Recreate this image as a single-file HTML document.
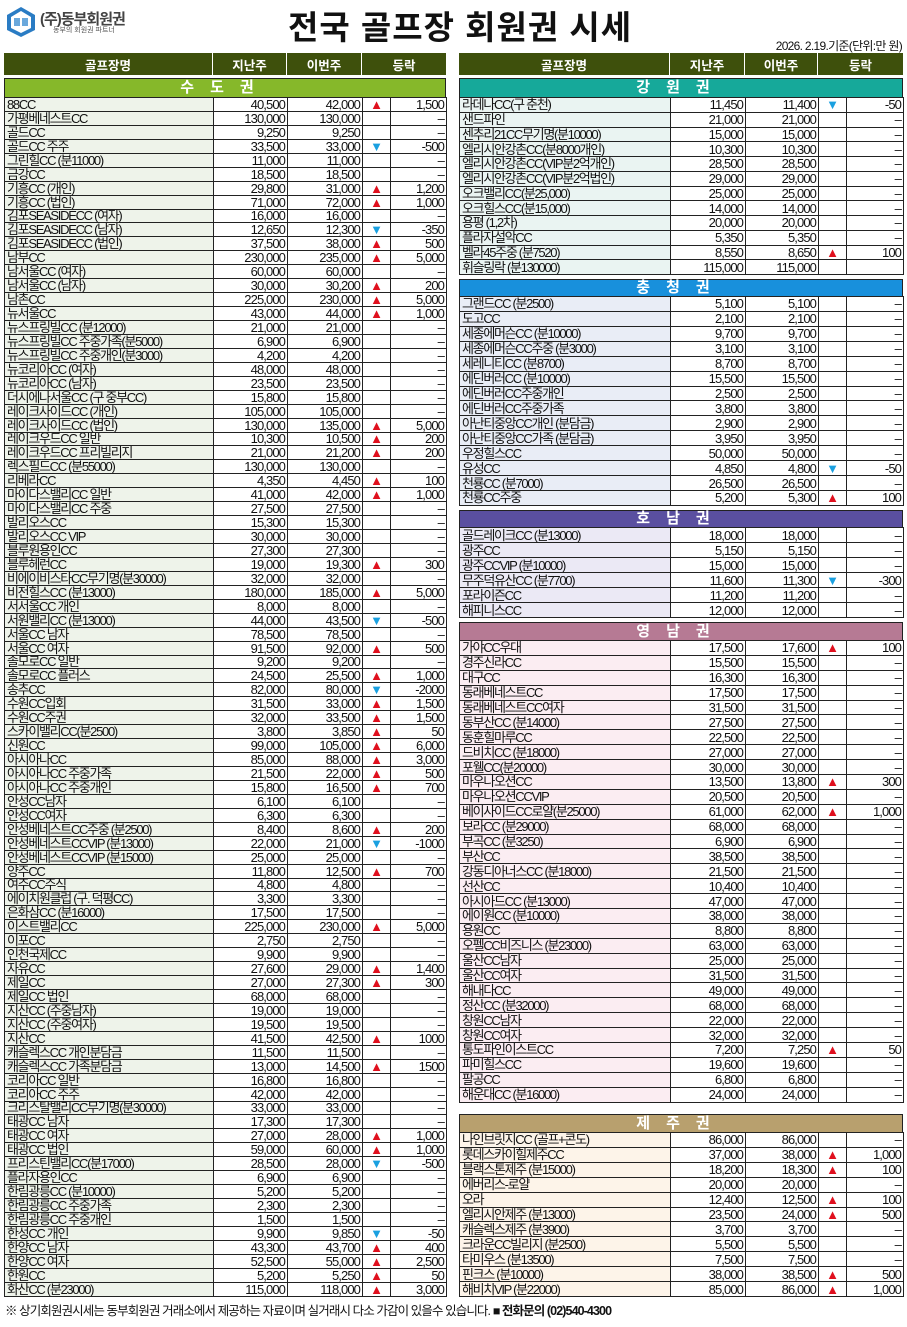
<!DOCTYPE html>
<html><head><meta charset="utf-8">
<style>
*{margin:0;padding:0;box-sizing:border-box}
body{width:907px;height:1327px;background:#fff;position:relative;font-family:"Liberation Sans","Noto Sans CJK KR",sans-serif;color:#111;overflow:hidden}
.abs{position:absolute}
.hdr{position:absolute;top:53px;height:22px;display:flex;background:#3e500c;color:#fff;font-size:12.5px;font-weight:bold}
.hdr div{display:flex;align-items:center;justify-content:center;border-right:1px solid #fff}
.hdr div:last-child{border-right:none}
.sec{position:absolute;border:1px solid #222;border-bottom:none;color:#fff;font-weight:bold;font-size:15px;text-align:center;letter-spacing:16px;line-height:17px}
table{position:absolute;border-collapse:collapse;table-layout:fixed;font-size:13px;letter-spacing:-0.9px;border:1.5px solid #111}
td{border:1px solid #222;padding:0 2px;line-height:11px;white-space:nowrap;overflow:hidden;text-align:right;background:#fff}
td:first-child{text-align:left;letter-spacing:-1.3px}
td:nth-child(4){text-align:center;font-size:13px;letter-spacing:0}
.u{color:#e0101e}.d{color:#1aa0e0}
.L td:first-child{background:#eef3ea}
.G td:first-child{background:#eaf4f2}
.C td:first-child{background:#e9edf6}
.H td:first-child{background:#ebe9f5}
.Y td:first-child{background:#fbedf2}
.J td:first-child{background:#fdf4e9}
</style></head><body>
<svg class="abs" style="left:5px;top:6px" width="32" height="32" viewBox="0 0 32 32"><path d="M16 1 L30 9 L30 24 L16 31 L2 24 L2 9 Z" fill="#2a7cc4"/><path d="M16 5 L26 11 L26 22 L16 27 L6 22 L6 11 Z" fill="#fff"/><path d="M9 12h6v8H9zM17 12h6v8h-6z" fill="#6aa8dc"/></svg>
<div class="abs" style="left:40px;top:8px;font-size:15px;font-weight:bold;color:#444;letter-spacing:-1px">(주)동부회원권</div>
<div class="abs" style="left:53px;top:25px;font-size:7px;color:#555">동부의 회원권 파트너</div>
<div class="abs" style="left:288px;top:1px;font-size:33px;font-weight:bold;letter-spacing:1px;color:#111">전국 골프장 회원권 시세</div>
<div class="abs" style="right:5px;top:37px;font-size:12px;letter-spacing:-0.7px">2026. 2.19.기준(단위:만 원)</div>

<div class="hdr" style="left:4px;width:442px"><div style="width:209px">골프장명</div><div style="width:74px">지난주</div><div style="width:75px">이번주</div><div style="width:84px">등락</div></div>
<div class="hdr" style="left:459px;width:444px"><div style="width:211px">골프장명</div><div style="width:75px">지난주</div><div style="width:73px">이번주</div><div style="width:85px">등락</div></div>

<div class="sec" style="left:4px;top:78px;width:442px;height:19px;background:#86b82a">수도권</div>
<table class="L" style="left:4px;top:97px;width:442px;height:1200px">
<colgroup><col style="width:209px"><col style="width:74px"><col style="width:75px"><col style="width:28px"><col style="width:56px"></colgroup>
<tr><td>88CC<td>40,500<td>42,000<td class=u>▲<td>1,500
<tr><td>가평베네스트CC<td>130,000<td>130,000<td><td>–
<tr><td>골드CC<td>9,250<td>9,250<td><td>–
<tr><td>골드CC 주주<td>33,500<td>33,000<td class=d>▼<td>-500
<tr><td>그린힐CC (분11000)<td>11,000<td>11,000<td><td>–
<tr><td>금강CC<td>18,500<td>18,500<td><td>–
<tr><td>기흥CC (개인)<td>29,800<td>31,000<td class=u>▲<td>1,200
<tr><td>기흥CC (법인)<td>71,000<td>72,000<td class=u>▲<td>1,000
<tr><td>김포SEASIDECC (여자)<td>16,000<td>16,000<td><td>–
<tr><td>김포SEASIDECC (남자)<td>12,650<td>12,300<td class=d>▼<td>-350
<tr><td>김포SEASIDECC (법인)<td>37,500<td>38,000<td class=u>▲<td>500
<tr><td>남부CC<td>230,000<td>235,000<td class=u>▲<td>5,000
<tr><td>남서울CC (여자)<td>60,000<td>60,000<td><td>–
<tr><td>남서울CC (남자)<td>30,000<td>30,200<td class=u>▲<td>200
<tr><td>남촌CC<td>225,000<td>230,000<td class=u>▲<td>5,000
<tr><td>뉴서울CC<td>43,000<td>44,000<td class=u>▲<td>1,000
<tr><td>뉴스프링빌CC (분12000)<td>21,000<td>21,000<td><td>–
<tr><td>뉴스프링빌CC 주중가족(분5000)<td>6,900<td>6,900<td><td>–
<tr><td>뉴스프링빌CC 주중개인(분3000)<td>4,200<td>4,200<td><td>–
<tr><td>뉴코리아CC (여자)<td>48,000<td>48,000<td><td>–
<tr><td>뉴코리아CC (남자)<td>23,500<td>23,500<td><td>–
<tr><td>더시에나서울CC (구 중부CC)<td>15,800<td>15,800<td><td>–
<tr><td>레이크사이드CC (개인)<td>105,000<td>105,000<td><td>–
<tr><td>레이크사이드CC (법인)<td>130,000<td>135,000<td class=u>▲<td>5,000
<tr><td>레이크우드CC 일반<td>10,300<td>10,500<td class=u>▲<td>200
<tr><td>레이크우드CC 프리빌리지<td>21,000<td>21,200<td class=u>▲<td>200
<tr><td>렉스필드CC (분55000)<td>130,000<td>130,000<td><td>–
<tr><td>리베라CC<td>4,350<td>4,450<td class=u>▲<td>100
<tr><td>마이다스밸리CC 일반<td>41,000<td>42,000<td class=u>▲<td>1,000
<tr><td>마이다스밸리CC 주중<td>27,500<td>27,500<td><td>–
<tr><td>발리오스CC<td>15,300<td>15,300<td><td>–
<tr><td>발리오스CC VIP<td>30,000<td>30,000<td><td>–
<tr><td>블루원용인CC<td>27,300<td>27,300<td><td>–
<tr><td>블루헤런CC<td>19,000<td>19,300<td class=u>▲<td>300
<tr><td>비에이비스타CC무기명(분30000)<td>32,000<td>32,000<td><td>–
<tr><td>비전힐스CC (분13000)<td>180,000<td>185,000<td class=u>▲<td>5,000
<tr><td>서서울CC 개인<td>8,000<td>8,000<td><td>–
<tr><td>서원밸리CC (분13000)<td>44,000<td>43,500<td class=d>▼<td>-500
<tr><td>서울CC 남자<td>78,500<td>78,500<td><td>–
<tr><td>서울CC 여자<td>91,500<td>92,000<td class=u>▲<td>500
<tr><td>솔모로CC 일반<td>9,200<td>9,200<td><td>–
<tr><td>솔모로CC 플러스<td>24,500<td>25,500<td class=u>▲<td>1,000
<tr><td>송추CC<td>82,000<td>80,000<td class=d>▼<td>-2000
<tr><td>수원CC입회<td>31,500<td>33,000<td class=u>▲<td>1,500
<tr><td>수원CC주권<td>32,000<td>33,500<td class=u>▲<td>1,500
<tr><td>스카이밸리CC(분2500)<td>3,800<td>3,850<td class=u>▲<td>50
<tr><td>신원CC<td>99,000<td>105,000<td class=u>▲<td>6,000
<tr><td>아시아나CC<td>85,000<td>88,000<td class=u>▲<td>3,000
<tr><td>아시아나CC 주중가족<td>21,500<td>22,000<td class=u>▲<td>500
<tr><td>아시아나CC 주중개인<td>15,800<td>16,500<td class=u>▲<td>700
<tr><td>안성CC남자<td>6,100<td>6,100<td><td>–
<tr><td>안성CC여자<td>6,300<td>6,300<td><td>–
<tr><td>안성베네스트CC주중 (분2500)<td>8,400<td>8,600<td class=u>▲<td>200
<tr><td>안성베네스트CCVIP (분13000)<td>22,000<td>21,000<td class=d>▼<td>-1000
<tr><td>안성베네스트CCVIP (분15000)<td>25,000<td>25,000<td><td>–
<tr><td>양주CC<td>11,800<td>12,500<td class=u>▲<td>700
<tr><td>여주CC주식<td>4,800<td>4,800<td><td>–
<tr><td>에이치원클럽 (구. 덕평CC)<td>3,300<td>3,300<td><td>–
<tr><td>은화삼CC (분16000)<td>17,500<td>17,500<td><td>–
<tr><td>이스트밸리CC<td>225,000<td>230,000<td class=u>▲<td>5,000
<tr><td>이포CC<td>2,750<td>2,750<td><td>–
<tr><td>인천국제CC<td>9,900<td>9,900<td><td>–
<tr><td>자유CC<td>27,600<td>29,000<td class=u>▲<td>1,400
<tr><td>제일CC<td>27,000<td>27,300<td class=u>▲<td>300
<tr><td>제일CC 법인<td>68,000<td>68,000<td><td>–
<tr><td>지산CC (주중남자)<td>19,000<td>19,000<td><td>–
<tr><td>지산CC (주중여자)<td>19,500<td>19,500<td><td>–
<tr><td>지산CC<td>41,500<td>42,500<td class=u>▲<td>1000
<tr><td>캐슬렉스CC 개인분담금<td>11,500<td>11,500<td><td>–
<tr><td>캐슬렉스CC 가족분담금<td>13,000<td>14,500<td class=u>▲<td>1500
<tr><td>코리아CC 일반<td>16,800<td>16,800<td><td>–
<tr><td>코리아CC 주주<td>42,000<td>42,000<td><td>–
<tr><td>크리스탈밸리CC무기명(분30000)<td>33,000<td>33,000<td><td>–
<tr><td>태광CC 남자<td>17,300<td>17,300<td><td>–
<tr><td>태광CC 여자<td>27,000<td>28,000<td class=u>▲<td>1,000
<tr><td>태광CC 법인<td>59,000<td>60,000<td class=u>▲<td>1,000
<tr><td>프리스틴밸리CC(분17000)<td>28,500<td>28,000<td class=d>▼<td>-500
<tr><td>플라자용인CC<td>6,900<td>6,900<td><td>–
<tr><td>한림광릉CC (분10000)<td>5,200<td>5,200<td><td>–
<tr><td>한림광릉CC 주중가족<td>2,300<td>2,300<td><td>–
<tr><td>한림광릉CC 주중개인<td>1,500<td>1,500<td><td>–
<tr><td>한성CC 개인<td>9,900<td>9,850<td class=d>▼<td>-50
<tr><td>한양CC 남자<td>43,300<td>43,700<td class=u>▲<td>400
<tr><td>한양CC 여자<td>52,500<td>55,000<td class=u>▲<td>2,500
<tr><td>한원CC<td>5,200<td>5,250<td class=u>▲<td>50
<tr><td>화산CC (분23000)<td>115,000<td>118,000<td class=u>▲<td>3,000
</table>

<div class="sec" style="left:459px;top:78px;width:444px;height:19px;background:#16a99a">강원권</div>
<table class="G" style="left:459px;top:97px;width:444px;height:178px">
<colgroup><col style="width:211px"><col style="width:75px"><col style="width:73px"><col style="width:28px"><col style="width:57px"></colgroup>
<tr><td>라데나CC(구 춘천)<td>11,450<td>11,400<td class=d>▼<td>-50
<tr><td>샌드파인<td>21,000<td>21,000<td><td>–
<tr><td>센추리21CC무기명(분10000)<td>15,000<td>15,000<td><td>–
<tr><td>엘리시안강촌CC(분8000개인)<td>10,300<td>10,300<td><td>–
<tr><td>엘리시안강촌CC(VIP분2억개인)<td>28,500<td>28,500<td><td>–
<tr><td>엘리시안강촌CC(VIP분2억법인)<td>29,000<td>29,000<td><td>–
<tr><td>오크밸리CC(분25,000)<td>25,000<td>25,000<td><td>–
<tr><td>오크힐스CC(분15,000)<td>14,000<td>14,000<td><td>–
<tr><td>용평 (1,2차)<td>20,000<td>20,000<td><td>–
<tr><td>플라자설악CC<td>5,350<td>5,350<td><td>–
<tr><td>벨라45주중 (분7520)<td>8,550<td>8,650<td class=u>▲<td>100
<tr><td>휘슬링락 (분130000)<td>115,000<td>115,000<td><td>
</table>

<div class="sec" style="left:459px;top:279px;width:444px;height:17px;line-height:16px;background:#1890dc">충청권</div>
<table class="C" style="left:459px;top:296px;width:444px;height:210px">
<colgroup><col style="width:211px"><col style="width:75px"><col style="width:73px"><col style="width:28px"><col style="width:57px"></colgroup>
<tr><td>그랜드CC (분2500)<td>5,100<td>5,100<td><td>–
<tr><td>도고CC<td>2,100<td>2,100<td><td>–
<tr><td>세종에머슨CC (분10000)<td>9,700<td>9,700<td><td>–
<tr><td>세종에머슨CC주중 (분3000)<td>3,100<td>3,100<td><td>–
<tr><td>세레니티CC (분8700)<td>8,700<td>8,700<td><td>–
<tr><td>에딘버러CC (분10000)<td>15,500<td>15,500<td><td>–
<tr><td>에딘버러CC주중개인<td>2,500<td>2,500<td><td>–
<tr><td>에딘버러CC주중가족<td>3,800<td>3,800<td><td>–
<tr><td>아난티중앙CC개인 (분담금)<td>2,900<td>2,900<td><td>–
<tr><td>아난티중앙CC가족 (분담금)<td>3,950<td>3,950<td><td>–
<tr><td>우정힐스CC<td>50,000<td>50,000<td><td>–
<tr><td>유성CC<td>4,850<td>4,800<td class=d>▼<td>-50
<tr><td>천룡CC (분7000)<td>26,500<td>26,500<td><td>–
<tr><td>천룡CC주중<td>5,200<td>5,300<td class=u>▲<td>100
</table>

<div class="sec" style="left:459px;top:510px;width:444px;height:17px;line-height:16px;background:#5a4fa0">호남권</div>
<table class="H" style="left:459px;top:527px;width:444px;height:91px">
<colgroup><col style="width:211px"><col style="width:75px"><col style="width:73px"><col style="width:28px"><col style="width:57px"></colgroup>
<tr><td>골드레이크CC (분13000)<td>18,000<td>18,000<td><td>–
<tr><td>광주CC<td>5,150<td>5,150<td><td>–
<tr><td>광주CCVIP (분10000)<td>15,000<td>15,000<td><td>–
<tr><td>무주덕유산CC (분7700)<td>11,600<td>11,300<td class=d>▼<td>-300
<tr><td>포라이즌CC<td>11,200<td>11,200<td><td>–
<tr><td>해피니스CC<td>12,000<td>12,000<td><td>–
</table>

<div class="sec" style="left:459px;top:622px;width:444px;height:18px;line-height:17px;background:#b67a94">영남권</div>
<table class="Y" style="left:459px;top:640px;width:444px;height:463px">
<colgroup><col style="width:211px"><col style="width:75px"><col style="width:73px"><col style="width:28px"><col style="width:57px"></colgroup>
<tr><td>가야CC우대<td>17,500<td>17,600<td class=u>▲<td>100
<tr><td>경주신라CC<td>15,500<td>15,500<td><td>–
<tr><td>대구CC<td>16,300<td>16,300<td><td>–
<tr><td>동래베네스트CC<td>17,500<td>17,500<td><td>–
<tr><td>동래베네스트CC여자<td>31,500<td>31,500<td><td>–
<tr><td>동부산CC (분14000)<td>27,500<td>27,500<td><td>–
<tr><td>동훈힐마루CC<td>22,500<td>22,500<td><td>–
<tr><td>드비치CC (분18000)<td>27,000<td>27,000<td><td>–
<tr><td>포웰CC(분20000)<td>30,000<td>30,000<td><td>–
<tr><td>마우나오션CC<td>13,500<td>13,800<td class=u>▲<td>300
<tr><td>마우나오션CCVIP<td>20,500<td>20,500<td><td>–
<tr><td>베이사이드CC로얄(분25000)<td>61,000<td>62,000<td class=u>▲<td>1,000
<tr><td>보라CC (분29000)<td>68,000<td>68,000<td><td>–
<tr><td>부곡CC (분3250)<td>6,900<td>6,900<td><td>–
<tr><td>부산CC<td>38,500<td>38,500<td><td>–
<tr><td>강동디아너스CC (분18000)<td>21,500<td>21,500<td><td>–
<tr><td>선산CC<td>10,400<td>10,400<td><td>–
<tr><td>아시아드CC (분13000)<td>47,000<td>47,000<td><td>–
<tr><td>에이원CC (분10000)<td>38,000<td>38,000<td><td>–
<tr><td>용원CC<td>8,800<td>8,800<td><td>–
<tr><td>오펠CC비즈니스 (분23000)<td>63,000<td>63,000<td><td>–
<tr><td>울산CC남자<td>25,000<td>25,000<td><td>–
<tr><td>울산CC여자<td>31,500<td>31,500<td><td>–
<tr><td>해내다CC<td>49,000<td>49,000<td><td>–
<tr><td>정산CC (분32000)<td>68,000<td>68,000<td><td>–
<tr><td>창원CC남자<td>22,000<td>22,000<td><td>–
<tr><td>창원CC여자<td>32,000<td>32,000<td><td>–
<tr><td>통도파인이스트CC<td>7,200<td>7,250<td class=u>▲<td>50
<tr><td>파미힐스CC<td>19,600<td>19,600<td><td>–
<tr><td>팔공CC<td>6,800<td>6,800<td><td>–
<tr><td>해운대CC (분16000)<td>24,000<td>24,000<td><td>–
</table>

<div class="sec" style="left:459px;top:1114px;width:444px;height:18px;line-height:17px;background:#b8a06e">제주권</div>
<table class="J" style="left:459px;top:1132px;width:444px;height:165px">
<colgroup><col style="width:211px"><col style="width:75px"><col style="width:73px"><col style="width:28px"><col style="width:57px"></colgroup>
<tr><td>나인브릿지CC (골프+콘도)<td>86,000<td>86,000<td><td>–
<tr><td>롯데스카이힐제주CC<td>37,000<td>38,000<td class=u>▲<td>1,000
<tr><td>블랙스톤제주 (분15000)<td>18,200<td>18,300<td class=u>▲<td>100
<tr><td>에버리스-로얄<td>20,000<td>20,000<td><td>–
<tr><td>오라<td>12,400<td>12,500<td class=u>▲<td>100
<tr><td>엘리시안제주 (분13000)<td>23,500<td>24,000<td class=u>▲<td>500
<tr><td>캐슬렉스제주 (분3900)<td>3,700<td>3,700<td><td>–
<tr><td>크라운CC빌리지 (분2500)<td>5,500<td>5,500<td><td>–
<tr><td>타미우스 (분13500)<td>7,500<td>7,500<td><td>–
<tr><td>핀크스 (분10000)<td>38,000<td>38,500<td class=u>▲<td>500
<tr><td>해비치VIP (분22000)<td>85,000<td>86,000<td class=u>▲<td>1,000
</table>

<div class="abs" style="left:5px;top:1300px;font-size:12.5px;letter-spacing:-0.9px">※ 상기회원권시세는 동부회원권 거래소에서 제공하는 자료이며 실거래시 다소 가감이 있을수 있습니다. <b>■ 전화문의 (02)540-4300</b></div>
</body></html>
